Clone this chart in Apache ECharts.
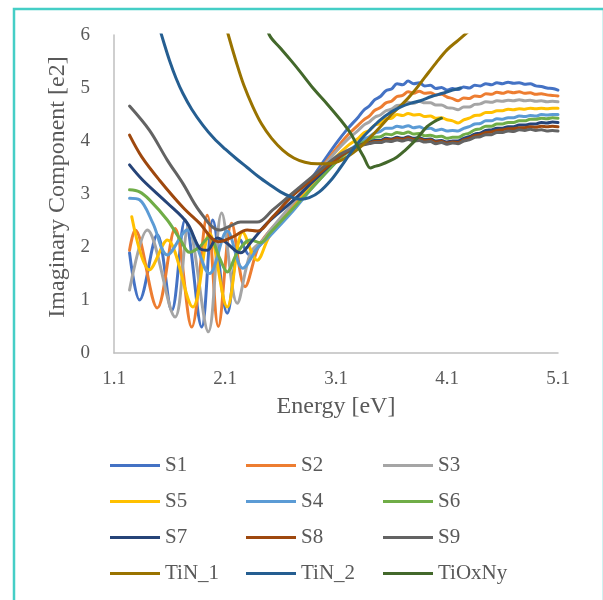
<!DOCTYPE html>
<html>
<head>
<meta charset="utf-8">
<script src="https://cdn.jsdelivr.net/npm/echarts@6/dist/echarts.min.js"></script>
<style>
html,body{margin:0;padding:0;background:#fff;}
#chart{width:603px;height:600px;}
</style>
</head>
<body>
<div id="chart"></div>
<script>
// ---- Data (Energy [eV], Imaginary component) ----
const xTicks = ['1.1','2.1','3.1','4.1','5.1'];
const yTicks = [0,1,2,3,4,5,6];
const seriesNames = ['S1','S2','S3','S5','S4','S6','S7','S8','S9','TiN_1','TiN_2','TiOxNy'];

const S1 = [[1.24,1.89],[1.33,1.0],[1.49,2.23],[1.62,0.8],[1.74,2.51],[1.89,0.49],[1.99,2.51],[2.12,0.75],[2.24,2.13],[2.32,1.85],[2.4,2.0],[2.5,2.25],[2.7,2.75],[2.9,3.35],[3.1,3.95],[3.2,4.22],
  [3.30,4.45],[3.35,4.58],[3.40,4.66],[3.45,4.78],[3.50,4.84],[3.55,4.95],[3.60,4.98],[3.65,5.08],[3.70,5.06],[3.75,5.13],[3.80,5.08],[3.85,5.1],[3.90,5.04],[3.95,5.05],[4.00,4.99],[4.05,5.01],[4.10,4.96],[4.15,4.99],[4.20,4.97],[4.25,5.02],[4.30,5.0],[4.35,5.05],[4.40,5.04],[4.45,5.08],[4.50,5.06],[4.55,5.1],[4.60,5.08],[4.65,5.11],[4.70,5.09],[4.75,5.1],[4.80,5.07],[4.85,5.08],[4.90,5.04],[4.95,5.03],[5.00,5.0],[5.05,4.99],[5.10,4.96]];
const S2 = [[1.24,1.94],[1.29,2.32],[1.49,0.85],[1.65,2.35],[1.8,0.49],[1.94,2.6],[2.04,0.5],[2.16,2.45],[2.28,1.25],[2.4,2.0],[2.5,2.3],[2.7,2.75],[2.9,3.3],[3.1,3.85],[3.2,4.1],
  [3.30,4.3],[3.35,4.4],[3.40,4.47],[3.45,4.58],[3.50,4.63],[3.55,4.72],[3.60,4.75],[3.65,4.84],[3.70,4.86],[3.75,4.93],[3.80,4.9],[3.85,4.94],[3.90,4.9],[3.95,4.91],[4.00,4.87],[4.05,4.88],[4.10,4.83],[4.15,4.8],[4.20,4.76],[4.25,4.81],[4.30,4.8],[4.35,4.85],[4.40,4.84],[4.45,4.89],[4.50,4.88],[4.55,4.92],[4.60,4.9],[4.65,4.93],[4.70,4.91],[4.75,4.93],[4.80,4.9],[4.85,4.91],[4.90,4.88],[4.95,4.89],[5.00,4.87],[5.05,4.86],[5.10,4.85]];
const S3 = [[1.24,1.19],[1.4,2.32],[1.65,0.68],[1.77,2.38],[1.95,0.4],[2.07,2.64],[2.21,0.94],[2.33,1.89],[2.44,2.13],[2.5,2.3],[2.7,2.8],[2.9,3.3],[3.1,3.8],[3.2,4.02],
  [3.30,4.2],[3.35,4.3],[3.40,4.36],[3.45,4.45],[3.50,4.49],[3.55,4.57],[3.60,4.6],[3.65,4.67],[3.70,4.68],[3.75,4.73],[3.80,4.71],[3.85,4.75],[3.90,4.72],[3.95,4.72],[4.00,4.68],[4.05,4.68],[4.10,4.63],[4.15,4.62],[4.20,4.59],[4.25,4.64],[4.30,4.64],[4.35,4.69],[4.40,4.7],[4.45,4.74],[4.50,4.73],[4.55,4.76],[4.60,4.75],[4.65,4.77],[4.70,4.76],[4.75,4.78],[4.80,4.76],[4.85,4.77],[4.90,4.75],[4.95,4.76],[5.00,4.74],[5.05,4.75],[5.10,4.74]];
const S5 = [[1.26,2.57],[1.42,1.57],[1.58,2.13],[1.81,0.87],[1.96,2.26],[2.12,0.87],[2.26,2.28],[2.39,1.75],[2.5,2.2],[2.7,2.7],[2.9,3.2],[3.1,3.7],[3.2,3.9],
  [3.30,4.05],[3.35,4.15],[3.40,4.2],[3.45,4.3],[3.50,4.33],[3.55,4.42],[3.60,4.43],[3.65,4.5],[3.70,4.48],[3.75,4.52],[3.80,4.49],[3.85,4.5],[3.90,4.46],[3.95,4.47],[4.00,4.43],[4.05,4.44],[4.10,4.4],[4.15,4.38],[4.20,4.34],[4.25,4.4],[4.30,4.43],[4.35,4.48],[4.40,4.49],[4.45,4.54],[4.50,4.54],[4.55,4.57],[4.60,4.57],[4.65,4.6],[4.70,4.59],[4.75,4.61],[4.80,4.6],[4.85,4.62],[4.90,4.61],[4.95,4.62],[5.00,4.61],[5.05,4.62],[5.10,4.62]];
const S4 = [[1.24,2.92],[1.33,2.89],[1.45,2.45],[1.58,1.85],[1.76,2.32],[1.96,1.5],[2.12,2.3],[2.26,1.6],[2.4,2.0],[2.5,2.2],[2.7,2.65],[2.9,3.15],[3.1,3.6],[3.2,3.8],
  [3.30,3.95],[3.35,4.03],[3.40,4.08],[3.45,4.15],[3.50,4.18],[3.55,4.24],[3.60,4.24],[3.65,4.28],[3.70,4.26],[3.75,4.29],[3.80,4.25],[3.85,4.27],[3.90,4.23],[3.95,4.24],[4.00,4.2],[4.05,4.22],[4.10,4.19],[4.15,4.2],[4.20,4.19],[4.25,4.24],[4.30,4.27],[4.35,4.32],[4.40,4.33],[4.45,4.38],[4.50,4.38],[4.55,4.42],[4.60,4.41],[4.65,4.44],[4.70,4.44],[4.75,4.47],[4.80,4.46],[4.85,4.48],[4.90,4.47],[4.95,4.5],[5.00,4.49],[5.05,4.5],[5.10,4.5]];
const S6 = [[1.24,3.08],[1.33,3.04],[1.42,2.89],[1.58,2.51],[1.7,2.13],[1.78,1.9],[1.87,2.0],[1.96,2.19],[2.05,1.8],[2.12,1.53],[2.21,1.89],[2.33,2.13],[2.42,2.08],[2.5,2.25],[2.7,2.7],[2.9,3.15],[3.1,3.6],[3.2,3.78],
  [3.30,3.92],[3.35,3.98],[3.40,4.02],[3.45,4.07],[3.50,4.08],[3.55,4.13],[3.60,4.12],[3.65,4.16],[3.70,4.14],[3.75,4.17],[3.80,4.13],[3.85,4.14],[3.90,4.1],[3.95,4.11],[4.00,4.08],[4.05,4.09],[4.10,4.05],[4.15,4.07],[4.20,4.07],[4.25,4.12],[4.30,4.15],[4.35,4.21],[4.40,4.23],[4.45,4.28],[4.50,4.28],[4.55,4.32],[4.60,4.32],[4.65,4.35],[4.70,4.35],[4.75,4.38],[4.80,4.38],[4.85,4.41],[4.90,4.41],[4.95,4.43],[5.00,4.42],[5.05,4.44],[5.10,4.43]];
const S7 = [[1.24,3.55],[1.36,3.26],[1.58,2.83],[1.76,2.45],[1.87,1.98],[1.94,1.94],[2.03,2.17],[2.1,2.1],[2.24,1.89],[2.33,2.08],[2.48,2.45],[2.7,2.85],[2.9,3.25],[3.1,3.65],[3.2,3.8],
  [3.30,3.9],[3.35,3.95],[3.40,3.97],[3.45,4.01],[3.50,4.01],[3.55,4.05],[3.60,4.04],[3.65,4.07],[3.70,4.05],[3.75,4.08],[3.80,4.05],[3.85,4.06],[3.90,4.03],[3.95,4.04],[4.00,4.0],[4.05,4.01],[4.10,3.98],[4.15,4.0],[4.20,4.0],[4.25,4.05],[4.30,4.08],[4.35,4.13],[4.40,4.15],[4.45,4.2],[4.50,4.21],[4.55,4.24],[4.60,4.24],[4.65,4.27],[4.70,4.27],[4.75,4.3],[4.80,4.3],[4.85,4.32],[4.90,4.32],[4.95,4.35],[5.00,4.34],[5.05,4.36],[5.10,4.35]];
const S8 = [[1.24,4.11],[1.35,3.7],[1.51,3.26],[1.72,2.75],[1.87,2.45],[2.04,2.1],[2.17,2.19],[2.3,2.32],[2.39,2.3],[2.53,2.57],[2.7,2.95],[2.9,3.3],[3.1,3.65],[3.2,3.8],
  [3.30,3.9],[3.35,3.94],[3.40,3.96],[3.45,3.99],[3.50,3.99],[3.55,4.03],[3.60,4.02],[3.65,4.05],[3.70,4.03],[3.75,4.06],[3.80,4.03],[3.85,4.04],[3.90,4.01],[3.95,4.02],[4.00,3.98],[4.05,3.99],[4.10,3.96],[4.15,3.98],[4.20,3.97],[4.25,4.02],[4.30,4.05],[4.35,4.1],[4.40,4.12],[4.45,4.16],[4.50,4.17],[4.55,4.2],[4.60,4.21],[4.65,4.23],[4.70,4.23],[4.75,4.25],[4.80,4.25],[4.85,4.27],[4.90,4.26],[4.95,4.28],[5.00,4.27],[5.05,4.28],[5.10,4.27]];
const S9 = [[1.24,4.66],[1.42,4.2],[1.58,3.64],[1.72,3.2],[1.87,2.68],[2.05,2.32],[2.15,2.4],[2.24,2.47],[2.39,2.47],[2.53,2.7],[2.7,3.0],[2.9,3.35],[3.1,3.7],[3.2,3.82],
  [3.30,3.9],[3.35,3.93],[3.40,3.95],[3.45,3.97],[3.50,3.97],[3.55,4.0],[3.60,3.99],[3.65,4.02],[3.70,4.0],[3.75,4.03],[3.80,4.0],[3.85,4.01],[3.90,3.98],[3.95,3.99],[4.00,3.95],[4.05,3.97],[4.10,3.94],[4.15,3.96],[4.20,3.95],[4.25,4.0],[4.30,4.02],[4.35,4.07],[4.40,4.08],[4.45,4.12],[4.50,4.12],[4.55,4.16],[4.60,4.16],[4.65,4.19],[4.70,4.18],[4.75,4.21],[4.80,4.2],[4.85,4.22],[4.90,4.2],[4.95,4.21],[5.00,4.19],[5.05,4.2],[5.10,4.19]];
const TiN_1 = [[2.08,6.4],[2.13,6.0],[2.2,5.5],[2.27,5.05],[2.35,4.65],[2.43,4.32],[2.52,4.05],[2.62,3.83],[2.72,3.68],[2.82,3.6],[2.93,3.57],[3.03,3.57],[3.12,3.61],[3.2,3.7],[3.3,3.85],[3.4,4.05],[3.5,4.27],[3.6,4.5],[3.7,4.7],[3.8,4.93],[3.9,5.2],[4.0,5.47],[4.1,5.72],[4.2,5.9],[4.3,6.08]];
const TiN_2 = [[1.46,6.5],[1.5,6.2],[1.55,5.85],[1.6,5.52],[1.66,5.18],[1.72,4.9],[1.8,4.6],[1.9,4.3],[2.0,4.05],[2.1,3.85],[2.2,3.67],[2.3,3.5],[2.4,3.33],[2.5,3.18],[2.6,3.04],[2.7,2.94],[2.78,2.9],[2.86,2.93],[2.95,3.04],[3.05,3.25],[3.14,3.5],[3.23,3.77],[3.32,4.02],[3.41,4.22],[3.5,4.4],[3.6,4.55],[3.68,4.64],[3.77,4.71],[3.86,4.76],[3.96,4.84],[4.06,4.9],[4.15,4.96],[4.22,5.0]];
const TiOxNy = [[2.45,6.4],[2.5,6.0],[2.6,5.75],[2.69,5.53],[2.78,5.3],[2.9,4.98],[3.02,4.7],[3.14,4.4],[3.23,4.15],[3.29,3.92],[3.35,3.7],[3.41,3.49],[3.45,3.52],[3.5,3.55],[3.58,3.62],[3.65,3.7],[3.72,3.82],[3.79,3.96],[3.85,4.1],[3.92,4.27],[3.98,4.36],[4.05,4.43]];

const seriesData = [S1,S2,S3,S5,S4,S6,S7,S8,S9,TiN_1,TiN_2,TiOxNy];
const colors = ['#4472C4','#ED7D31','#A5A5A5','#FFC000','#5B9BD5','#70AD47','#264478','#9E480E','#636363','#997300','#255E91','#43682B'];

const FONT = '"Liberation Serif", "Times New Roman", serif';
const TXT = '#595959';

const legendCols = [110, 246, 383];
const legendRows = [466, 502, 538, 574];
const legends = seriesNames.map((n, i) => ({
  data: [n],
  left: legendCols[i % 3],
  top: legendRows[Math.floor(i / 3)] - 11,
  padding: 0,
  icon: 'rect',
  itemWidth: 50,
  itemHeight: 3,
  itemGap: 5,
  selectedMode: false,
  textStyle: {fontFamily: FONT, fontSize: 21, color: TXT}
}));

const chart = echarts.init(document.getElementById('chart'), null, {renderer: 'canvas'});
chart.setOption({
  animation: false,
  backgroundColor: '#ffffff',
  color: colors,
  graphic: [{
    type: 'rect',
    shape: {x: 14, y: 9, width: 590, height: 600},
    style: {fill: 'none', stroke: '#45CEC6', lineWidth: 2.5},
    silent: true
  }],
  grid: {left: 114, top: 35, right: 45, bottom: 247, containLabel: false},
  legend: legends,
  xAxis: {
    type: 'value', min: 1.1, max: 5.1, interval: 1,
    name: 'Energy [eV]', nameLocation: 'middle', nameGap: 42,
    nameTextStyle: {fontFamily: FONT, fontSize: 24, color: TXT},
    axisLine: {show: true, lineStyle: {color: '#BFBFBF', width: 1.5}},
    axisTick: {show: false},
    splitLine: {show: false},
    axisLabel: {fontFamily: FONT, fontSize: 19, color: TXT, margin: 17,
      formatter: v => v.toFixed(1)}
  },
  yAxis: {
    type: 'value', min: 0, max: 6, interval: 1,
    name: 'Imaginary Component [e2]', nameLocation: 'middle', nameGap: 37,
    nameTextStyle: {fontFamily: FONT, fontSize: 24, color: TXT, padding: [0,0,0,14]},
    axisLine: {show: true, lineStyle: {color: '#BFBFBF', width: 1.5}},
    axisTick: {show: false},
    splitLine: {show: false},
    axisLabel: {fontFamily: FONT, fontSize: 19, color: TXT, margin: 24}
  },
  series: seriesNames.map((n, i) => ({
    name: n,
    type: 'line',
    data: seriesData[i],
    showSymbol: false,
    smooth: 0.35,
    clip: true,
    lineStyle: {width: 3, color: colors[i], cap: 'round', join: 'round'},
    itemStyle: {color: colors[i]},
    emphasis: {disabled: true}
  }))
});
</script>
</body>
</html>
